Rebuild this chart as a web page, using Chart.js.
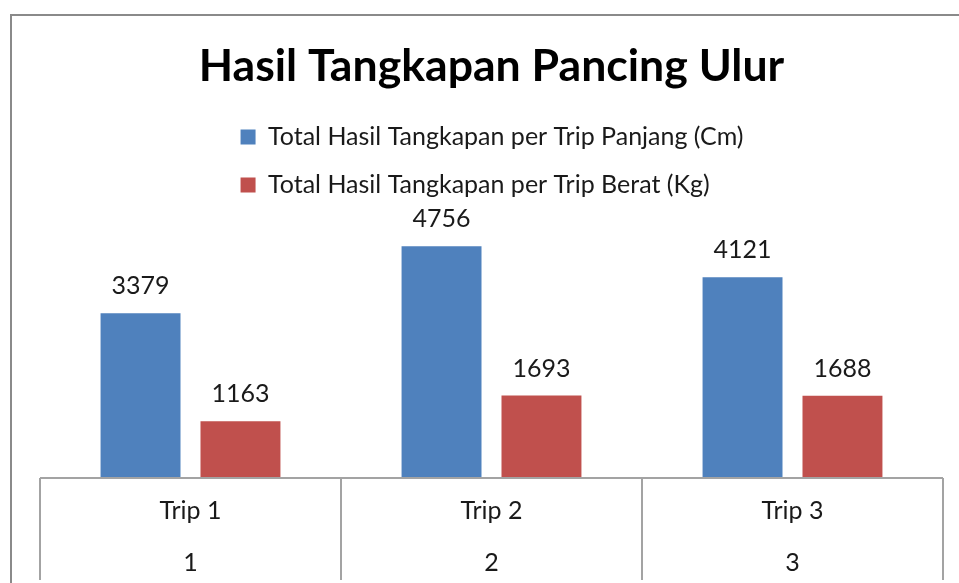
<!DOCTYPE html>
<html>
<head>
<meta charset="utf-8">
<script src="https://cdn.jsdelivr.net/npm/chart.js@4.4.1/dist/chart.umd.min.js"></script>
<style>
  html, body { margin: 0; padding: 0; background: #fff; overflow: hidden; }
</style>
</head>
<body>
<canvas id="chart" width="959" height="583"></canvas>
<script>
const categories = [["Trip 1", "1"], ["Trip 2", "2"], ["Trip 3", "3"]];
const panjang = [3379, 4756, 4121];
const berat = [1163, 1693, 1688];
const seriesNames = [
  "Total Hasil Tangkapan per Trip Panjang (Cm)",
  "Total Hasil Tangkapan per Trip Berat (Kg)"
];

const FONT = "Lato, 'Open Sans', sans-serif";

// outer frame of the chart (cropped on the right and bottom)
const framePlugin = {
  id: "frame",
  beforeDraw(chart) {
    const ctx = chart.ctx;
    ctx.save();
    ctx.strokeStyle = "#8a8a8a";
    ctx.lineWidth = 2;
    ctx.beginPath();
    ctx.moveTo(11, chart.height + 5);
    ctx.lineTo(11, 15);
    ctx.lineTo(chart.width + 5, 15);
    ctx.stroke();
    ctx.restore();
  }
};

// keep the legend rows left-aligned as one centred block
const legendBlockPlugin = {
  id: "legendBlock",
  afterLayout(chart) {
    const lg = chart.legend;
    if (!lg || !lg.lineWidths) return;
    const pad = lg.options.labels.padding;
    const widest = Math.max(...lg.lineWidths);
    const mid = (chart.chartArea.left + chart.chartArea.right) / 2;
    lg.left = mid - widest / 2 - pad + 12;
  }
};

// table-like lines under the category axis
const axisTablePlugin = {
  id: "axisTable",
  afterDraw(chart) {
    const x = chart.scales.x;
    const ctx = chart.ctx;
    const n = categories.length;
    const w = (x.right - x.left) / n;
    const top = chart.chartArea.bottom;
    ctx.save();
    ctx.strokeStyle = "#a3a3a3";
    ctx.lineWidth = 2;
    ctx.beginPath();
    ctx.moveTo(x.left, top);
    ctx.lineTo(x.right, top);
    for (let i = 0; i <= n; i++) {
      const px = Math.round(x.left + i * w);
      ctx.moveTo(px, top);
      ctx.lineTo(px, top + 102);
    }
    ctx.stroke();
    ctx.restore();
  }
};

// value labels above each bar
const valueLabelPlugin = {
  id: "valueLabels",
  afterDatasetsDraw(chart) {
    const ctx = chart.ctx;
    ctx.save();
    ctx.fillStyle = "#1a1a1a";
    ctx.font = "25px " + FONT;
    ctx.textAlign = "center";
    ctx.textBaseline = "middle";
    chart.data.datasets.forEach((ds, i) => {
      chart.getDatasetMeta(i).data.forEach((bar, j) => {
        ctx.fillText(String(ds.data[j]), bar.x, bar.y - 27);
      });
    });
    ctx.restore();
  }
};

new Chart(document.getElementById("chart"), {
  type: "bar",
  data: {
    labels: categories,
    datasets: [
      {
        label: seriesNames[0],
        data: panjang,
        backgroundColor: "#4f81bd",
        categoryPercentage: 0.664,
        barPercentage: 0.8
      },
      {
        label: seriesNames[1],
        data: berat,
        backgroundColor: "#c0504d",
        categoryPercentage: 0.664,
        barPercentage: 0.8
      }
    ]
  },
  options: {
    responsive: false,
    animation: false,
    layout: { padding: { left: 40, right: 16, top: 0, bottom: -13 } },
    plugins: {
      title: {
        display: true,
        text: "Hasil Tangkapan Pancing Ulur",
        color: "#000",
        font: { family: FONT, size: 44.6, weight: "bold", lineHeight: 1.2 },
        padding: { top: 40, bottom: 8 }
      },
      legend: {
        position: "top",
        align: "start",
        labels: {
          color: "#1a1a1a",
          font: { family: FONT, size: 25 },
          boxWidth: 15,
          boxHeight: 15,
          padding: 23
        }
      },
      tooltip: { enabled: false }
    },
    scales: {
      x: {
        grid: { display: false, drawTicks: false },
        border: { display: false },
        ticks: {
          color: "#1a1a1a",
          font: { family: FONT, size: 25, lineHeight: 2.08 },
          padding: 7
        }
      },
      y: {
        display: false,
        min: 0,
        max: 5550
      }
    }
  },
  plugins: [framePlugin, legendBlockPlugin, axisTablePlugin, valueLabelPlugin]
});
</script>
</body>
</html>
